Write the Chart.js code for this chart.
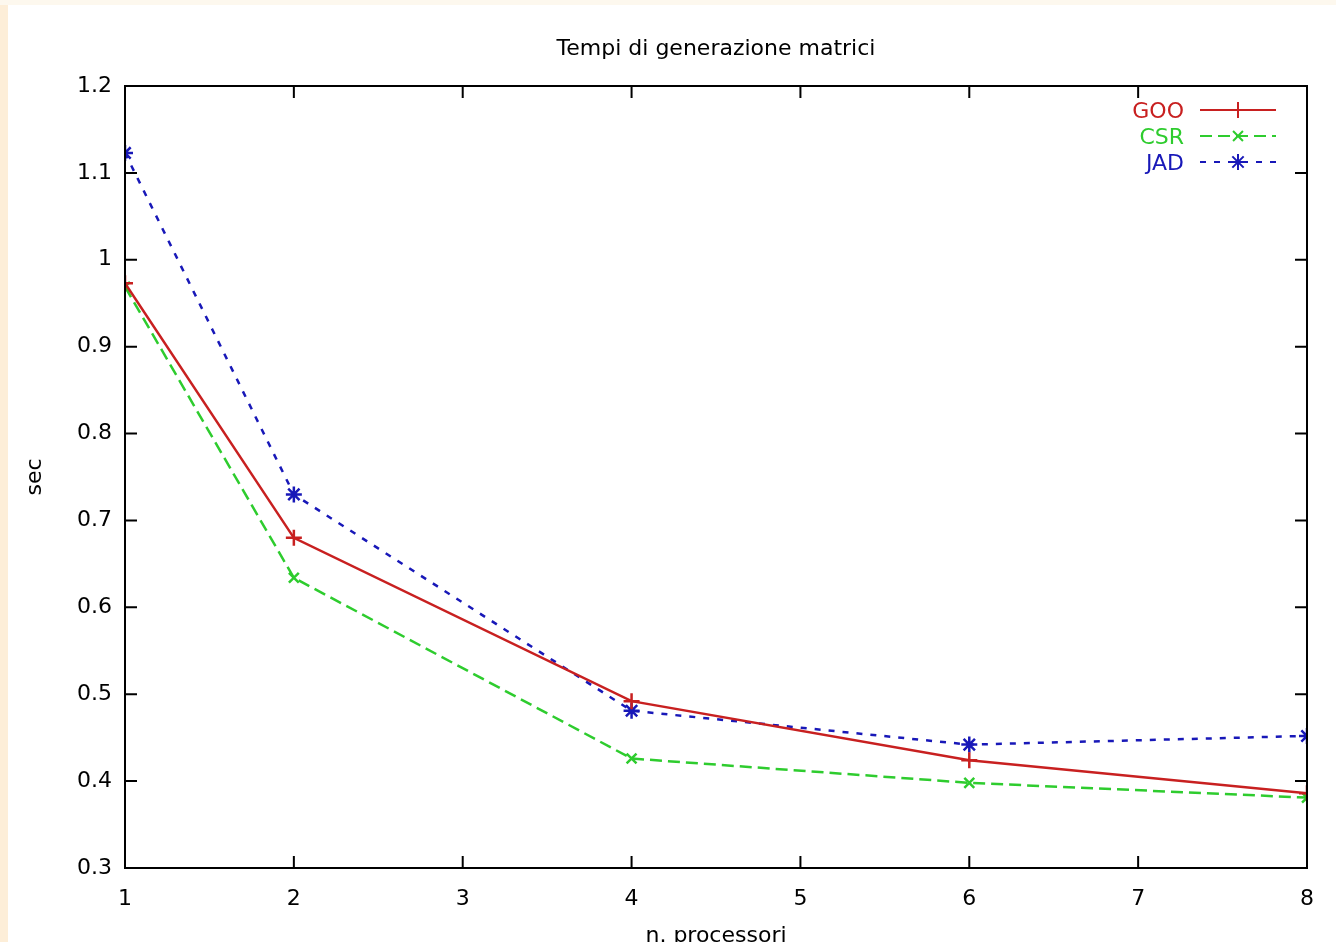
<!DOCTYPE html>
<html>
<head>
<meta charset="utf-8">
<script src="https://cdn.jsdelivr.net/npm/chart.js@4.4.1/dist/chart.umd.min.js"></script>
<style>
  html, body { margin: 0; padding: 0; background: #fff; }
  #wrap { position: relative; width: 1336px; height: 942px; overflow: hidden; }
  #stripLeft { position: absolute; left: 0; top: 0; width: 8px; height: 942px; background: #fdeed8; }
  #stripTop { position: absolute; left: 0; top: 0; width: 1336px; height: 5px; background: #fdf8ee; }
  canvas { position: absolute; left: 0; top: 0; }
</style>
</head>
<body>
<div id="wrap">
  <div id="stripLeft"></div>
  <div id="stripTop"></div>
  <canvas id="chart" width="1336" height="942"></canvas>
</div>
<script>
const processors = [1, 2, 4, 6, 8];
const gooTimes = [0.973, 0.680, 0.492, 0.424, 0.386];
const csrTimes = [0.969, 0.634, 0.426, 0.398, 0.381];
const jadTimes = [1.123, 0.730, 0.481, 0.442, 0.452];
const xTicks = [1, 2, 3, 4, 5, 6, 7, 8];
const yTicks = [0.3, 0.4, 0.5, 0.6, 0.7, 0.8, 0.9, 1, 1.1, 1.2];
const chartTitle = 'Tempi di generazione matrici';

const FONT = '"DejaVu Sans", Verdana, sans-serif';

function toPoints(values) {
  return processors.map((p, i) => ({ x: p, y: values[i] }));
}

// title centred over the plot frame, not over the whole canvas
const plotTitle = {
  id: 'plotTitle',
  afterDraw(chart) {
    const { ctx, chartArea: a } = chart;
    ctx.save();
    ctx.font = '22px ' + FONT;
    ctx.fillStyle = '#000';
    ctx.textAlign = 'center';
    ctx.textBaseline = 'middle';
    ctx.fillText(chartTitle, (a.left + a.right) / 2, 49);
    ctx.restore();
  }
};

// frame + inward ticks on all four sides, gnuplot style
const frameTicks = {
  id: 'frameTicks',
  afterDatasetsDraw(chart) {
    const { ctx, chartArea: a, scales } = chart;
    const len = 12;
    ctx.save();
    ctx.strokeStyle = '#000';
    ctx.lineWidth = 2;
    ctx.strokeRect(a.left, a.top, a.right - a.left, a.bottom - a.top);
    ctx.beginPath();
    xTicks.forEach(v => {
      const x = scales.x.getPixelForValue(v);
      ctx.moveTo(x, a.bottom); ctx.lineTo(x, a.bottom - len);
      ctx.moveTo(x, a.top); ctx.lineTo(x, a.top + len);
    });
    yTicks.forEach(v => {
      const y = scales.y.getPixelForValue(v);
      ctx.moveTo(a.left, y); ctx.lineTo(a.left + len, y);
      ctx.moveTo(a.right, y); ctx.lineTo(a.right - len, y);
    });
    ctx.stroke();
    ctx.restore();
  }
};

// legend in the top right corner: label, then a line sample with its marker
const gnuLegend = {
  id: 'gnuLegend',
  afterDraw(chart) {
    const { ctx } = chart;
    ctx.save();
    ctx.font = '22px ' + FONT;
    ctx.textAlign = 'right';
    ctx.textBaseline = 'middle';
    chart.data.datasets.forEach((ds, i) => {
      const y = 110 + i * 26;
      ctx.fillStyle = ds.borderColor;
      ctx.fillText(ds.label, 1184, y + 2);
      ctx.strokeStyle = ds.borderColor;
      ctx.lineWidth = 2;
      ctx.setLineDash(ds.borderDash || []);
      ctx.beginPath();
      ctx.moveTo(1200, y);
      ctx.lineTo(1276, y);
      ctx.stroke();
      ctx.setLineDash([]);
      Chart.helpers.drawPoint(ctx, {
        pointStyle: ds.pointStyle,
        radius: ds.pointRadius,
        rotation: 0,
        borderWidth: 2
      }, 1238, y);
    });
    ctx.restore();
  }
};

const ctx = document.getElementById('chart');
const myChart = new Chart(ctx, {
  type: 'line',
  data: {
    datasets: [{
      label: 'GOO',
      data: toPoints(gooTimes),
      borderColor: '#c82020',
      backgroundColor: '#c82020',
      borderWidth: 2.5,
      pointStyle: 'cross',
      pointRadius: 8,
      pointBorderWidth: 2.5
    }, {
      label: 'CSR',
      data: toPoints(csrTimes),
      borderColor: '#2ecc2e',
      backgroundColor: '#2ecc2e',
      borderWidth: 2.5,
      borderDash: [12, 6],
      pointStyle: 'crossRot',
      pointRadius: 7,
      pointBorderWidth: 2.5
    }, {
      label: 'JAD',
      data: toPoints(jadTimes),
      borderColor: '#1818b8',
      backgroundColor: '#1818b8',
      borderWidth: 2.5,
      borderDash: [6, 8],
      pointStyle: 'star',
      pointRadius: 8,
      pointBorderWidth: 2.5
    }]
  },
  options: {
    responsive: false,
    animation: false,
    layout: {
      padding: { left: 0, right: 29, top: 86, bottom: 0 }
    },
    scales: {
      x: {
        type: 'linear',
        min: 1,
        max: 8,
        afterBuildTicks(scale) {
          scale.ticks = xTicks.map(v => ({ value: v }));
        },
        afterFit(scale) {
          scale.height = 74;
        },
        grid: { display: false, drawTicks: false },
        border: { display: false },
        ticks: {
          color: '#000',
          padding: 18,
          font: { family: FONT, size: 22 },
          callback: v => String(v)
        },
        title: {
          display: true,
          text: 'n. processori',
          color: '#000',
          padding: { top: 0, bottom: -7 },
          font: { family: FONT, size: 22 }
        }
      },
      y: {
        type: 'linear',
        min: 0.3,
        max: 1.2,
        afterBuildTicks(scale) {
          scale.ticks = yTicks.map(v => ({ value: v }));
        },
        afterFit(scale) {
          scale.width = 125;
        },
        grid: { display: false, drawTicks: false },
        border: { display: false },
        ticks: {
          color: '#000',
          padding: 13,
          font: { family: FONT, size: 22 },
          callback: v => String(Math.round(v * 10) / 10)
        },
        title: {
          display: true,
          text: 'sec',
          color: '#000',
          padding: { top: 22, bottom: 0 },
          font: { family: FONT, size: 22 }
        }
      }
    },
    plugins: {
      legend: { display: false },
      tooltip: { enabled: false },
      title: { display: false }
    }
  },
  plugins: [frameTicks, gnuLegend, plotTitle]
});
</script>
</body>
</html>
